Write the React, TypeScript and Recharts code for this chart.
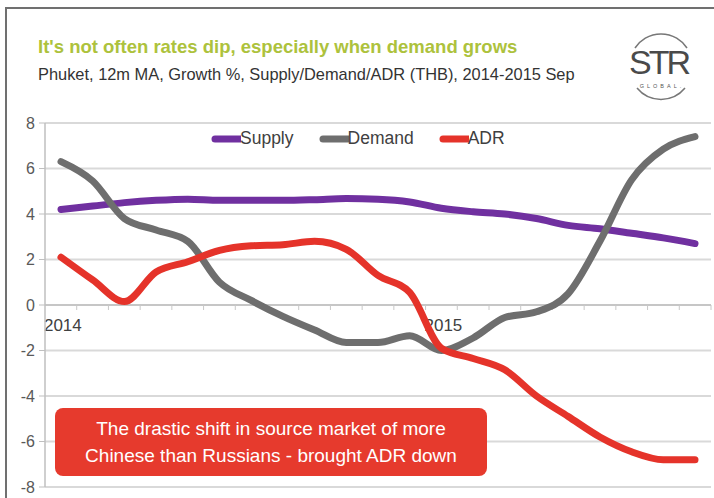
import React from 'react';
import {
  LineChart,
  Line,
  XAxis,
  YAxis,
  CartesianGrid,
  ReferenceLine,
  Legend,
} from 'recharts';

// monthly, Jan 2014 - Sep 2015
const months = [
  'Jan 2014', 'Feb 2014', 'Mar 2014', 'Apr 2014', 'May 2014', 'Jun 2014',
  'Jul 2014', 'Aug 2014', 'Sep 2014', 'Oct 2014', 'Nov 2014', 'Dec 2014',
  'Jan 2015', 'Feb 2015', 'Mar 2015', 'Apr 2015', 'May 2015', 'Jun 2015',
  'Jul 2015', 'Aug 2015', 'Sep 2015',
];

const supply = [
  4.2, 4.35, 4.5, 4.6, 4.65, 4.6, 4.6, 4.6, 4.63, 4.68, 4.65, 4.53,
  4.25, 4.1, 4.0, 3.8, 3.5, 3.35, 3.15, 2.95, 2.7,
];
const demand = [
  6.3, 5.45, 3.8, 3.3, 2.8, 1.0, 0.2, -0.5, -1.1, -1.65, -1.65, -1.35,
  -2.0, -1.45, -0.55, -0.3, 0.5, 2.8, 5.5, 6.85, 7.4,
];
const adr = [
  2.1, 1.1, 0.15, 1.45, 1.9, 2.4, 2.6, 2.65, 2.8, 2.45, 1.3, 0.55,
  -1.9, -2.35, -2.85, -4.0, -4.9, -5.8, -6.45, -6.8, -6.8,
];

const seriesNames = ['Supply', 'Demand', 'ADR'];
const yTicks = [-8, -6, -4, -2, 0, 2, 4, 6, 8];

const data = months.map((m, i) => ({
  month: m,
  Supply: supply[i],
  Demand: demand[i],
  ADR: adr[i],
}));

const FONT = '"Liberation Sans", Arial, sans-serif';

// zero line acts as the category axis: boundary ticks + year labels
const ZeroAxis = (props: any) => {
  const { x1, x2, y1 } = props;
  const left = Math.min(x1, x2);
  const right = Math.max(x1, x2);
  const step = (right - left) / months.length;
  return (
    <g>
      <line x1={left} x2={right} y1={y1} y2={y1} stroke="#bfbfbf" strokeWidth={1.5} />
      {months.map((m, i) => (
        <line
          key={'t' + i}
          x1={left + (i + 1) * step}
          x2={left + (i + 1) * step}
          y1={y1}
          y2={y1 + 5}
          stroke="#c8c8c8"
          strokeWidth={1}
        />
      ))}
      {months.map((m, i) =>
        m.startsWith('Jan') ? (
          <text
            key={'l' + i}
            x={left + (i + 0.5) * step + 2}
            y={y1 + 26}
            textAnchor="middle"
            fontSize={17}
            fill="#404040"
            fontFamily={FONT}
          >
            {m.slice(4)}
          </text>
        ) : null
      )}
    </g>
  );
};

const LegendContent = (props: any) => {
  const items = [...(props.payload || [])].sort(
    (a: any, b: any) => seriesNames.indexOf(a.value) - seriesNames.indexOf(b.value)
  );
  return (
    <div style={{ display: 'flex', alignItems: 'center', fontFamily: FONT }}>
      {items.map((entry: any) => (
        <div
          key={entry.value}
          style={{ display: 'flex', alignItems: 'center', marginRight: 25 }}
        >
          <svg width={30} height={12} style={{ display: 'block' }}>
            <line
              x1={4}
              x2={30}
              y1={6}
              y2={6}
              stroke={entry.color}
              strokeWidth={7}
              strokeLinecap="round"
            />
          </svg>
          <span style={{ fontSize: 17.5, color: '#404040', marginLeft: -1 }}>
            {entry.value}
          </span>
        </div>
      ))}
    </div>
  );
};

const Logo = () => (
  <svg
    width={80}
    height={80}
    style={{ position: 'absolute', left: 621, top: 26 }}
  >
    <path d="M 14 22 A 31 31 0 0 1 66 22" fill="none" stroke="#777" strokeWidth={1.5} />
    <path d="M 16 62 A 31 31 0 0 0 64 62" fill="none" stroke="#777" strokeWidth={1.5} />
    <text
      x={39}
      y={48}
      textAnchor="middle"
      fontSize={34}
      fontFamily={FONT}
      fill="#4a4a4a"
      textLength={62}
    >
      STR
    </text>
    <text
      x={41}
      y={61.5}
      textAnchor="middle"
      fontSize={5.5}
      fontFamily={FONT}
      fill="#555"
      letterSpacing={3}
    >
      GLOBAL.
    </text>
  </svg>
);

const App = () => {
  return (
    <div
      style={{
        position: 'absolute',
        left: 0,
        top: 0,
        width: 714,
        height: 498,
        overflow: 'hidden',
        background: '#ffffff',
        fontFamily: FONT,
      }}
    >
      {/* frame */}
      <div
        style={{
          position: 'absolute',
          left: 5,
          top: 7,
          width: 760,
          height: 560,
          borderTop: '2px solid #707070',
          borderLeft: '2px solid #707070',
        }}
      />

      <div
        style={{
          position: 'absolute',
          left: 38,
          top: 36,
          fontSize: 18.5,
          fontWeight: 'bold',
          color: '#adc23c',
          whiteSpace: 'nowrap',
        }}
      >
        It's not often rates dip, especially when demand grows
      </div>
      <div
        style={{
          position: 'absolute',
          left: 38,
          top: 65,
          fontSize: 16.4,
          color: '#333333',
          whiteSpace: 'nowrap',
        }}
      >
        Phuket, 12m MA, Growth %, Supply/Demand/ADR (THB), 2014-2015 Sep
      </div>
      <Logo />

      <div style={{ position: 'absolute', left: 0, top: 0 }}>
        <LineChart
          width={714}
          height={498}
          data={data}
          margin={{ top: 123, right: 3, bottom: 11, left: 5 }}
        >
          <CartesianGrid
            horizontal
            vertical={false}
            stroke="#d9d9d9"
            strokeWidth={2}
          />
          <XAxis dataKey="month" hide padding={{ left: 16, right: 16 }} />
          <YAxis
            width={40}
            domain={[-8, 8]}
            ticks={yTicks}
            interval={0}
            tick={{ fontSize: 16, fill: '#595959', fontFamily: FONT }}
            tickSize={6}
            tickMargin={4}
            tickLine={{ stroke: '#bfbfbf' }}
            axisLine={{ stroke: '#bfbfbf', strokeWidth: 1.5 }}
          />
          <ReferenceLine y={0} shape={ZeroAxis} />
          <Legend
            layout="horizontal"
            verticalAlign="middle"
            align="center"
            wrapperStyle={{ top: 128, left: 211, width: 330 }}
            content={LegendContent}
          />
          <Line
            type="monotone"
            dataKey="Supply"
            stroke="#7030a0"
            strokeWidth={7}
            strokeLinecap="round"
            dot={false}
            activeDot={false}
            isAnimationActive={false}
          />
          <Line
            type="monotone"
            dataKey="Demand"
            stroke="#6e6e6e"
            strokeWidth={7}
            strokeLinecap="round"
            dot={false}
            activeDot={false}
            isAnimationActive={false}
          />
          <Line
            type="monotone"
            dataKey="ADR"
            stroke="#e5332a"
            strokeWidth={7}
            strokeLinecap="round"
            dot={false}
            activeDot={false}
            isAnimationActive={false}
          />
        </LineChart>
      </div>

      {/* annotation */}
      <div
        style={{
          position: 'absolute',
          left: 55,
          top: 408,
          width: 432,
          height: 68,
          background: '#e63a2d',
          borderRadius: 8,
          color: '#ffffff',
          fontSize: 19,
          lineHeight: '27px',
          textAlign: 'center',
          display: 'flex',
          flexDirection: 'column',
          justifyContent: 'center',
        }}
      >
        <div>The drastic shift in source market of more</div>
        <div>Chinese than Russians - brought ADR down</div>
      </div>
    </div>
  );
};

export default App;
